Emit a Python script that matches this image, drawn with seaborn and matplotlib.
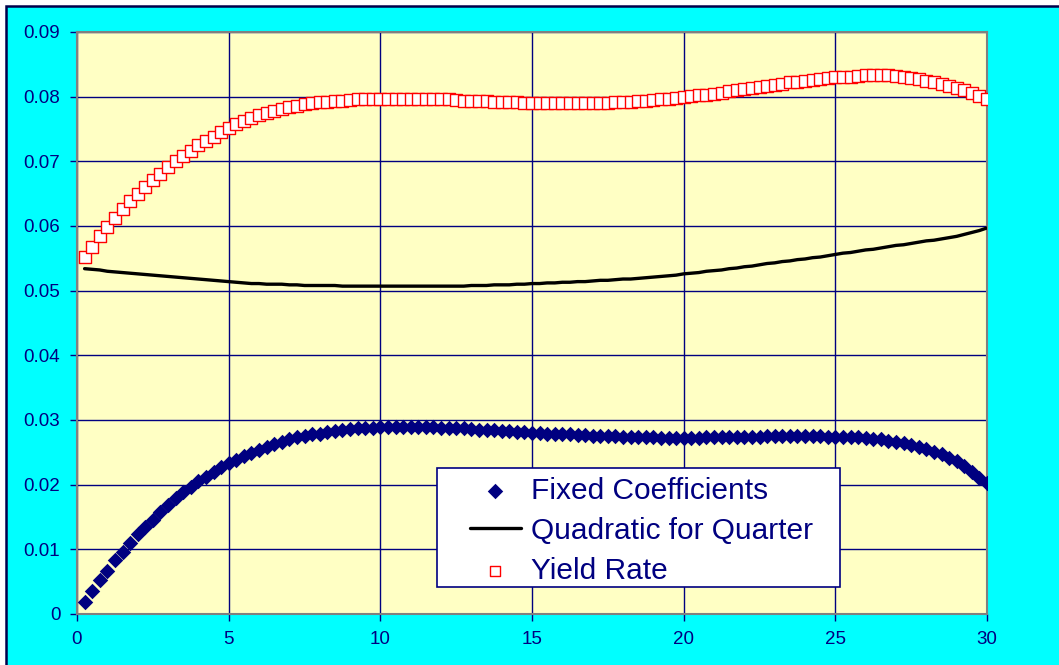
import matplotlib
matplotlib.use("Agg", force=True)
import matplotlib.pyplot as plt
from matplotlib.patches import Rectangle
from matplotlib.ticker import FuncFormatter, MultipleLocator
import seaborn as sns

# maturity in years, one point per quarter
quarters = [q / 4 for q in range(1, 121)]

fixed_coefficients = [
    0.0018, 0.0035, 0.0052, 0.0067, 0.0084, 0.0096, 0.0110, 0.0124, 0.0135, 0.0146,
    0.0158, 0.0169, 0.0179, 0.0188, 0.0197, 0.0205, 0.0212, 0.0220, 0.0227, 0.0233,
    0.0238, 0.0244, 0.0249, 0.0254, 0.0259, 0.0263, 0.0266, 0.0270, 0.0273, 0.0275,
    0.0278, 0.0279, 0.0281, 0.0283, 0.0285, 0.0286, 0.0287, 0.0288, 0.0288, 0.0289,
    0.0289, 0.0289, 0.0289, 0.0289, 0.0289, 0.0289, 0.0289, 0.0288, 0.0288, 0.0287,
    0.0287, 0.0286, 0.0285, 0.0285, 0.0284, 0.0283, 0.0283, 0.0282, 0.0281, 0.0280,
    0.0280, 0.0279, 0.0279, 0.0278, 0.0278, 0.0277, 0.0277, 0.0276, 0.0276, 0.0275,
    0.0275, 0.0274, 0.0274, 0.0273, 0.0273, 0.0273, 0.0272, 0.0272, 0.0272, 0.0272,
    0.0272, 0.0272, 0.0273, 0.0273, 0.0273, 0.0273, 0.0274, 0.0274, 0.0274, 0.0274,
    0.0275, 0.0275, 0.0275, 0.0275, 0.0275, 0.0275, 0.0275, 0.0275, 0.0274, 0.0274,
    0.0274, 0.0274, 0.0273, 0.0272, 0.0271, 0.0270, 0.0268, 0.0266, 0.0264, 0.0261,
    0.0258, 0.0255, 0.0251, 0.0247, 0.0242, 0.0236, 0.0229, 0.0220, 0.0211, 0.0202,
]

quadratic_for_quarter = [
    0.0534, 0.0533, 0.0532, 0.0530, 0.0529, 0.0528, 0.0527, 0.0526, 0.0525, 0.0524,
    0.0523, 0.0522, 0.0521, 0.0520, 0.0519, 0.0518, 0.0517, 0.0516, 0.0515, 0.0514,
    0.0513, 0.0512, 0.0511, 0.0511, 0.0510, 0.0510, 0.0510, 0.0509, 0.0509, 0.0508,
    0.0508, 0.0508, 0.0508, 0.0508, 0.0507, 0.0507, 0.0507, 0.0507, 0.0507, 0.0507,
    0.0507, 0.0507, 0.0507, 0.0507, 0.0507, 0.0507, 0.0507, 0.0507, 0.0507, 0.0507,
    0.0507, 0.0508, 0.0508, 0.0508, 0.0509, 0.0509, 0.0509, 0.0510, 0.0510, 0.0511,
    0.0511, 0.0512, 0.0512, 0.0513, 0.0513, 0.0514, 0.0514, 0.0515, 0.0516, 0.0516,
    0.0517, 0.0518, 0.0518, 0.0519, 0.0520, 0.0521, 0.0522, 0.0523, 0.0524, 0.0526,
    0.0527, 0.0528, 0.0530, 0.0531, 0.0532, 0.0534, 0.0535, 0.0537, 0.0538, 0.0540,
    0.0542, 0.0543, 0.0545, 0.0546, 0.0548, 0.0549, 0.0551, 0.0552, 0.0554, 0.0556,
    0.0558, 0.0559, 0.0561, 0.0563, 0.0564, 0.0566, 0.0568, 0.0570, 0.0571, 0.0573,
    0.0575, 0.0577, 0.0578, 0.0580, 0.0582, 0.0584, 0.0587, 0.0590, 0.0593, 0.0597,
]

yield_rate = [
    0.0552, 0.0568, 0.0584, 0.0599, 0.0613, 0.0626, 0.0638, 0.0649, 0.0660, 0.0671,
    0.0681, 0.0692, 0.0700, 0.0709, 0.0716, 0.0725, 0.0731, 0.0738, 0.0745, 0.0752,
    0.0757, 0.0763, 0.0767, 0.0771, 0.0775, 0.0778, 0.0781, 0.0784, 0.0786, 0.0788,
    0.0790, 0.0791, 0.0792, 0.0793, 0.0794, 0.0795, 0.0796, 0.0796, 0.0796, 0.0796,
    0.0796, 0.0796, 0.0796, 0.0796, 0.0796, 0.0796, 0.0796, 0.0796, 0.0796, 0.0795,
    0.0794, 0.0794, 0.0794, 0.0793, 0.0792, 0.0792, 0.0791, 0.0791, 0.0790, 0.0790,
    0.0790, 0.0790, 0.0790, 0.0790, 0.0790, 0.0790, 0.0790, 0.0790, 0.0790, 0.0790,
    0.0791, 0.0792, 0.0792, 0.0793, 0.0794, 0.0795, 0.0796, 0.0797, 0.0798, 0.0800,
    0.0801, 0.0802, 0.0803, 0.0804, 0.0806, 0.0808, 0.0810, 0.0812, 0.0813, 0.0815,
    0.0817, 0.0818, 0.0820, 0.0822, 0.0823, 0.0824, 0.0826, 0.0827, 0.0829, 0.0830,
    0.0831, 0.0831, 0.0832, 0.0833, 0.0833, 0.0833, 0.0833, 0.0832, 0.0831, 0.0829,
    0.0827, 0.0825, 0.0823, 0.0819, 0.0816, 0.0813, 0.0810, 0.0806, 0.0801, 0.0796,
]

series_order = ["Fixed Coefficients", "Quadratic for Quarter", "Yield Rate"]

NAVY = "#000080"
W, H = 1059, 665


def main() -> None:
    sns.set_style("white")
    plt.rcParams["font.family"] = ["Liberation Sans", "DejaVu Sans"]

    fig = plt.figure(figsize=(W / 100, H / 100), dpi=100, facecolor="white")
    # cyan chart area with dark frame
    fig.add_artist(Rectangle((6 / W, -0.05), 1.1, (H - 6) / H + 0.05, transform=fig.transFigure,
                             facecolor="#00FFFF", edgecolor="#00004A", lw=1.8, zorder=-1))

    ax = fig.add_axes([77 / W, (H - 614) / H, 910 / W, 582 / H])
    ax.set_facecolor("#FFFFC4")

    sns.lineplot(x=quarters, y=quadratic_for_quarter, color="black", lw=2.4,
                 label=series_order[1], ax=ax, zorder=3)
    sns.scatterplot(x=quarters, y=fixed_coefficients, marker="D", s=62, color=NAVY,
                    edgecolor=NAVY, linewidth=0, label=series_order[0], ax=ax, zorder=3)
    sns.scatterplot(x=quarters, y=yield_rate, marker="s", s=78, color="white",
                    edgecolor="red", linewidth=1, label=series_order[2], ax=ax, zorder=3)

    ax.set_xlim(0, 30)
    ax.set_ylim(0, 0.09)
    ax.xaxis.set_major_locator(MultipleLocator(5))
    ax.yaxis.set_major_locator(MultipleLocator(0.01))
    ax.yaxis.set_major_formatter(FuncFormatter(lambda v, _: f"{round(v, 4):g}"))
    ax.grid(True, color=NAVY, lw=1)
    ax.set_axisbelow(True)
    for sp in ax.spines.values():
        sp.set_color("#808080")
        sp.set_linewidth(1.5)
    ax.tick_params(direction="out", length=5, width=1, color=NAVY, labelcolor=NAVY,
                   labelsize=13.5, pad=7, bottom=True, left=True)
    ax.set_xlabel("")
    ax.set_ylabel("")

    # legend box drawn separately so the padding matches the original
    ax.add_patch(Rectangle(((437 - 77) / 910, (614 - 587) / 582), 403 / 910, 119 / 582,
                           transform=ax.transAxes, facecolor="white", edgecolor=NAVY,
                           lw=1.2, zorder=4.9))
    handles, labels = ax.get_legend_handles_labels()
    lookup = dict(zip(labels, handles))
    leg = ax.legend([lookup[k] for k in series_order], series_order, frameon=False,
                    loc="upper left", bbox_to_anchor=((470 - 77) / 910, (614 - 477) / 582),
                    borderpad=0, borderaxespad=0, fontsize=21.5, labelcolor=NAVY,
                    handlelength=1.7, handletextpad=0.33, labelspacing=0.4,
                    markerscale=1.0)
    leg.legend_handles[2].set_sizes([55])

    fig.savefig("out.png", dpi=100, facecolor=fig.get_facecolor())
    plt.close(fig)


if __name__ == "__main__":
    main()
